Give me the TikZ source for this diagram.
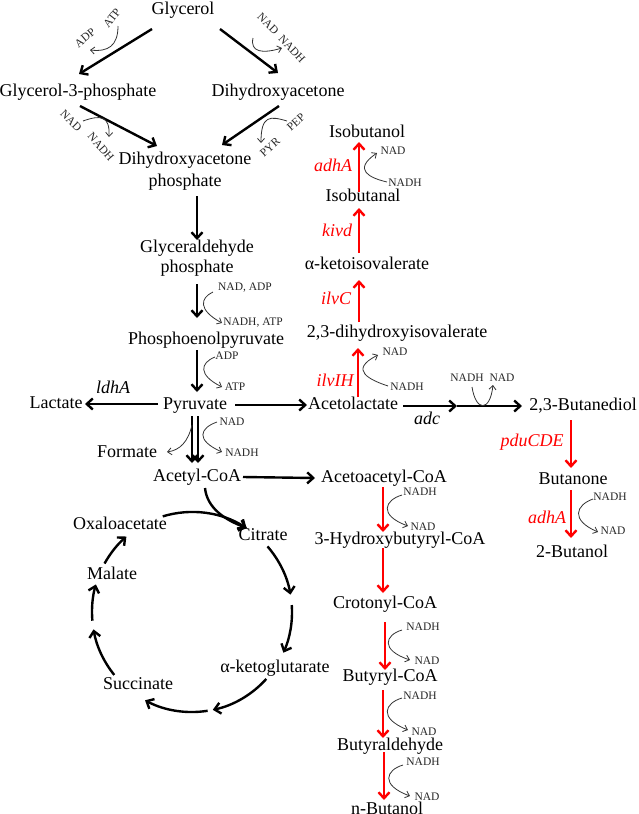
\documentclass[tikz,border=0pt]{standalone}
\usepackage{fontspec}
\setmainfont{Liberation Serif}
\usetikzlibrary{arrows.meta}
\begin{document}
\begin{tikzpicture}[x=1pt,y=1pt,
 mol/.style={inner sep=0pt, font=\fontsize{18}{20}\selectfont, text height=12.6pt, text depth=3.6pt},
 mol2/.style={inner sep=0pt, font=\fontsize{18}{20}\selectfont, align=center},
 co/.style={inner sep=0pt, font=\fontsize{11.5}{13}\selectfont, text=black!85},
 gene/.style={inner sep=0pt, font=\fontsize{18}{20}\selectfont\itshape, text=red},
 geneb/.style={gene, text=black},
 rx/.style={line width=2.4pt, -{Straight Barb[length=6pt,width=11pt]}},
 rr/.style={rx, draw=red},
 cf/.style={line width=0.8pt, draw=black!80, -{Straight Barb[length=4pt,width=7pt]}},
]
\useasboundingbox (0,0) rectangle (638,-814);

% ---------- metabolites ----------
\node[mol] (gly) at (183,-10) {Glycerol};
\node[mol] (g3p) at (78,-92) {Glycerol-3-phosphate};
\node[mol] (dha) at (278,-92) {Dihydroxyacetone};
\node[mol2] (dhap) at (185,-171) {Dihydroxyacetone\\[2pt]phosphate};
\node[mol2] (gap) at (197,-258) {Glyceraldehyde\\phosphate};
\node[mol] (pep) at (206,-340) {Phosphoenolpyruvate};
\node[mol] (pyr) at (195,-405) {Pyruvate};
\node[mol] (lac) at (56,-404) {Lactate};
\node[mol] (acl) at (353,-405) {Acetolactate};
\node[mol] (form) at (127,-453) {Formate};
\node[mol] (acoa) at (197,-477) {Acetyl-CoA};
\node[mol] (aacoa) at (384,-478) {Acetoacetyl-CoA};
\node[mol] (cit) at (263,-536) {Citrate};
\node[mol] (oxa) at (120,-525) {Oxaloacetate};
\node[mol] (mal) at (112,-575) {Malate};
\node[mol] (akg) at (275,-668) {α-ketoglutarate};
\node[mol] (suc) at (138,-685) {Succinate};
\node[mol] (iso) at (367,-133) {Isobutanol};
\node[mol] (isa) at (363,-197) {Isobutanal};
\node[mol] (akiv) at (367,-265) {α-ketoisovalerate};
\node[mol] (dhiv) at (397,-333) {2,3-dihydroxyisovalerate};
\node[mol] (bdo) at (583,-406) {2,3-Butanediol};
\node[mol] (but) at (573,-480) {Butanone};
\node[mol] (b2) at (572,-553) {2-Butanol};
\node[mol] (hbcoa) at (400,-540) {3-Hydroxybutyryl-CoA};
\node[mol] (crot) at (385,-604) {Crotonyl-CoA};
\node[mol] (bcoa) at (390,-677) {Butyryl-CoA};
\node[mol] (bald) at (390,-746) {Butyraldehyde};
\node[mol] (nbut) at (387,-810) {n-Butanol};

% ---------- genes ----------
\node[gene] (g1) at (333,-165) {adhA};
\node[gene] (g2) at (337,-230) {kivd};
\node[gene] (g3) at (336,-298) {ilvC};
\node[gene] (g4) at (335,-380) {ilvIH};
\node[gene] (g5) at (532,-442) {pduCDE};
\node[gene] (g6) at (547,-517) {adhA};
\node[geneb] (g7) at (113,-387) {ldhA};
\node[geneb] (g8) at (427,-418) {adc};

% ---------- cofactors ----------
\node[co,rotate=52] (c1) at (112,-18) {ATP};
\node[co,rotate=40] (c2) at (85,-38) {ADP};
\node[co,rotate=-45] (c3) at (268,-24) {NAD};
\node[co,rotate=-47] (c4) at (292,-49) {NADH};
\node[co,rotate=-45] (c5) at (71,-121) {NAD};
\node[co,rotate=-49] (c6) at (101,-147) {NADH};
\node[co,rotate=42] (c7) at (296,-122) {PEP};
\node[co,rotate=42] (c8) at (270,-147) {PYR};
\node[co] (c9) at (245,-288) {NAD, ADP};
\node[co] (c10) at (253,-323) {NADH, ATP};
\node[co] (c11) at (227,-356) {ADP};
\node[co] (c12) at (235,-387) {ATP};
\node[co] (c13) at (232,-422) {NAD};
\node[co] (c14) at (242,-453) {NADH};
\node[co] (c15) at (393,-151) {NAD};
\node[co] (c16) at (405,-183) {NADH};
\node[co] (c17) at (395,-352) {NAD};
\node[co] (c18) at (407,-387) {NADH};
\node[co] (c19) at (467,-378) {NADH};
\node[co] (c20) at (502,-378) {NAD};
\node[co] (c21) at (610,-497) {NADH};
\node[co] (c22) at (613,-531) {NAD};
\node[co] (c23) at (420,-492) {NADH};
\node[co] (c24) at (423,-527) {NAD};
\node[co] (c25) at (423,-627) {NADH};
\node[co] (c26) at (427,-661) {NAD};
\node[co] (c27) at (420,-696) {NADH};
\node[co] (c28) at (424,-732) {NAD};
\node[co] (c29) at (423,-762) {NADH};
\node[co] (c30) at (427,-797) {NAD};

% ---------- black reactions ----------
\draw[rx] (152,-29) -- (79,-74);
\draw[rx] (220,-29) -- (278,-73);
\draw[rx] (80,-106) -- (157,-146);
\draw[rx] (279,-106) -- (222,-145);
\draw[rx] (197,-196) -- (197,-240);
\draw[rx] (197,-284) -- (197,-318);
\draw[rx] (197,-350) -- (197,-392);
\draw[rx] (158,-404) -- (85,-404);
\draw[rx] (235,-405) -- (307,-405);
\draw[rx] (192,-416) -- (192,-463);
\draw[rx] (198,-416) -- (198,-463);
\draw[rx] (243,-477) -- (315,-478);
\draw[rx] (403,-406) -- (457,-406);
\draw[rx] (457,-406) -- (522,-406);
\draw[rx] (205,-488) .. controls (207,-508) and (225,-520) .. (247,-528);

% TCA cycle
\coordinate (tca) at (192,-612);
\draw[rx] ([shift={(107:100)}]tca) arc[start angle=107,end angle=57,radius=100];
\draw[rx] ([shift={(41:100)}]tca) arc[start angle=41,end angle=10,radius=100];
\draw[rx] ([shift={(4:100)}]tca) arc[start angle=4,end angle=-24,radius=100];
\draw[rx] ([shift={(-42:100)}]tca) arc[start angle=-42,end angle=-78,radius=100];
\draw[rx] ([shift={(-81:100)}]tca) arc[start angle=-81,end angle=-118,radius=100];
\draw[rx] ([shift={(-141:100)}]tca) arc[start angle=-141,end angle=-170,radius=100];
\draw[rx] ([shift={(-175:100)}]tca) arc[start angle=-175,end angle=-196,radius=100];
\draw[rx] ([shift={(151:100)}]tca) arc[start angle=151,end angle=131,radius=100];

% ---------- red reactions ----------
\draw[rr] (359,-192) -- (359,-142);
\draw[rr] (359,-253) -- (359,-208);
\draw[rr] (359,-322) -- (359,-280);
\draw[rr] (358,-397) -- (358,-348);
\draw[rr] (571,-420) -- (571,-468);
\draw[rr] (571,-490) -- (571,-538);
\draw[rr] (383,-487) -- (383,-532);
\draw[rr] (383,-548) -- (383,-593);
\draw[rr] (385,-622) -- (385,-670);
\draw[rr] (383,-690) -- (383,-738);
\draw[rr] (384,-752) -- (384,-800);

% ---------- cofactor curves ----------
\draw[cf] (118,-26) .. controls (118,-46) and (108,-52) .. (90,-50);
\draw[cf] (253,-38) .. controls (250,-52) and (262,-54) .. (282,-48);
\draw[cf] (83,-121) .. controls (100,-115) and (110,-115) .. (109,-137);
\draw[cf] (287,-121) .. controls (270,-116) and (261,-115) .. (261,-143);
\draw[cf] (213,-292) .. controls (200,-298) and (198,-310) .. (222,-323);
\draw[cf] (215,-357) .. controls (200,-363) and (198,-375) .. (222,-387);
\draw[cf] (217,-422) .. controls (200,-428) and (195,-440) .. (222,-452);
\draw[cf] (192,-425) .. controls (188,-442) and (180,-450) .. (167,-452);
\draw[cf] (387,-182) .. controls (370,-178) and (352,-170) .. (377,-153);
\draw[cf] (388,-386) .. controls (370,-380) and (348,-370) .. (378,-355);
\draw[cf] (472,-387) .. controls (476,-412) and (490,-412) .. (493,-385);
\draw[cf] (593,-499) .. controls (576,-505) and (570,-520) .. (598,-532);
\draw[cf] (402,-495) .. controls (385,-500) and (378,-515) .. (408,-526);
\draw[cf] (402,-630) .. controls (385,-635) and (380,-650) .. (410,-660);
\draw[cf] (402,-698) .. controls (385,-703) and (378,-718) .. (408,-730);
\draw[cf] (403,-765) .. controls (386,-770) and (380,-785) .. (410,-796);
\end{tikzpicture}
\end{document}
